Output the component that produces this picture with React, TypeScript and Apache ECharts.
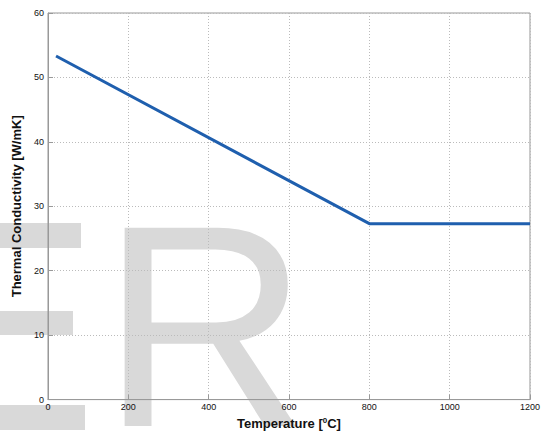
import React, { useEffect, useRef } from "react";
import * as echarts from "echarts";

const temperatures = [20, 800, 1200];
const conductivity = [53.33, 27.3, 27.3];
const xTicks = [0, 200, 400, 600, 800, 1000, 1200];
const yTicks = [0, 10, 20, 30, 40, 50, 60];

export default function App() {
  const ref = useRef<HTMLDivElement>(null);
  useEffect(() => {
    if (!ref.current) return;
    const chart = echarts.init(ref.current, null, { renderer: "svg" });
    const wm = "#d9d9d9";
    chart.setOption({
      animation: false,
      backgroundColor: "#ffffff",
      grid: { left: 48, right: 12, top: 13, bottom: 32, show: true, borderColor: "#999", borderWidth: 1 },
      graphic: [
        { type: "rect", z: -1, silent: true, shape: { x: 0, y: 223, width: 81, height: 25 }, style: { fill: wm } },
        { type: "rect", z: -1, silent: true, shape: { x: 0, y: 311, width: 73, height: 24 }, style: { fill: wm } },
        { type: "rect", z: -1, silent: true, shape: { x: 0, y: 405, width: 85, height: 25 }, style: { fill: wm } },
        {
          type: "text", z: -1, silent: true, x: 101, y: 470,
          style: { text: "R", fontSize: 288, fontFamily: "Liberation Sans, Arial", fill: wm, textVerticalAlign: "bottom" },
        },
      ],
      xAxis: {
        type: "value",
        min: xTicks[0],
        max: xTicks[xTicks.length - 1],
        interval: 200,
        name: "Temperature [{sup|0}C]",
        nameLocation: "middle",
        nameGap: 12,
        nameTextStyle: {
          fontSize: 13, fontWeight: "bold", color: "#111", fontFamily: "Liberation Sans, Arial", verticalAlign: "top",
          rich: { sup: { fontSize: 8, fontWeight: "bold", verticalAlign: "top", padding: [0, 0, 6, 0], color: "#111" } },
        },
        axisLine: { show: true, lineStyle: { color: "#999" } },
        axisTick: { show: true, inside: true, length: 5, lineStyle: { color: "#999" } },
        axisLabel: { fontSize: 9, color: "#111", margin: 3, fontFamily: "Liberation Sans, Arial", formatter: (v: number) => String(v) },
        splitLine: { show: true, lineStyle: { color: "#bbb", type: [1, 2] } },
      },
      yAxis: {
        type: "value",
        min: yTicks[0],
        max: yTicks[yTicks.length - 1],
        interval: 10,
        name: "Thermal Conductivity [W/mK]",
        nameLocation: "middle",
        nameGap: 19,
        nameTextStyle: { fontSize: 13, fontWeight: "bold", color: "#111", fontFamily: "Liberation Sans, Arial" },
        axisLine: { show: true, lineStyle: { color: "#999" } },
        axisTick: { show: true, inside: true, length: 5, lineStyle: { color: "#999" } },
        axisLabel: { fontSize: 9, color: "#111", margin: 4, fontFamily: "Liberation Sans, Arial" },
        splitLine: { show: true, lineStyle: { color: "#bbb", type: [1, 2] } },
      },
      series: [
        {
          type: "line",
          z: 3,
          data: temperatures.map((t, i) => [t, conductivity[i]]),
          showSymbol: false,
          lineStyle: { color: "#1f5fae", width: 3 },
        },
      ],
    });
    return () => chart.dispose();
  }, []);
  return <div ref={ref} style={{ width: 543, height: 435, position: "absolute", left: 0, top: 0 }} />;
}
